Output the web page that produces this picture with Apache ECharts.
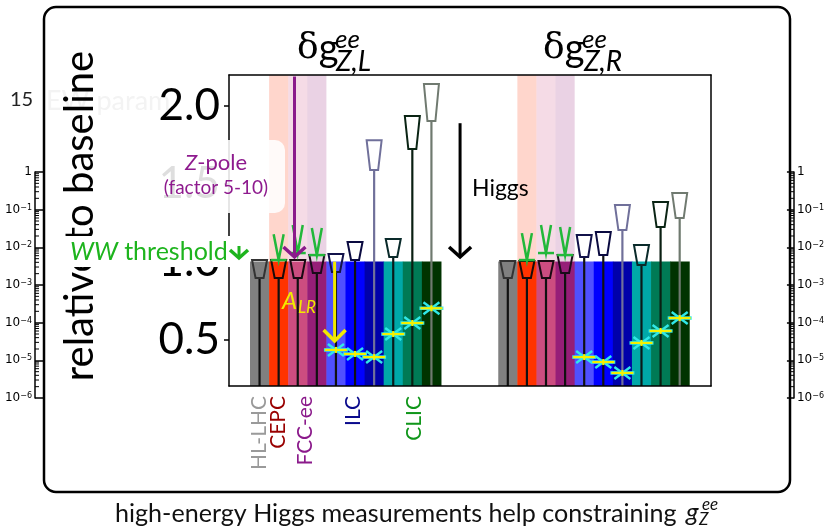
<!DOCTYPE html>
<html><head><meta charset="utf-8">
<script src="https://cdn.jsdelivr.net/npm/echarts@6/dist/echarts.min.js"></script>
<style>html,body{margin:0;padding:0;background:#fff}#c{width:827px;height:527px}</style>
</head><body><div id="c"></div><script>
// ---------------- data ----------------
const barColors = ['#808080','#ff3300','#cc4d80','#961e78','#5050ff','#0000ff','#0000aa','#00a8a8','#007a55','#003300'];
const lineColors = ['#111111','#111111','#111111','#111111','#111111','#111111','#70709a','#0a1a1a','#0a1f12','#6f7a6f'];
const markColors = ['#333333','#1a0a0a','#1a0a12','#1a0a1a','#12124a','#0a0a40','#70709a','#0a2a2a','#0a2414','#707a70'];
const groupLPos = [0,1,2,3,4,5,6,7,8,9];
const groupRPos = [13,14,15,16,17,18,19,20,21,22];
const barTop = 1.0;
const bandIdx = [1,2,3];
// trapezoid markers: top / bottom values
const markTopL = [1.01,1.01,1.01,1.042,1.049,1.126,1.78,1.145,1.936,2.142];
const markBotL = [0.895,0.895,0.895,0.927,0.933,1.01,1.589,1.03,1.724,1.904];
const markTopR = [1.004,1.004,1.004,1.042,1.171,1.19,1.364,1.107,1.383,1.441];
const markBotR = [0.895,0.895,0.895,0.927,1.03,1.042,1.203,0.978,1.222,1.28];
// high-energy (asterisk) values
const starL = [null,null,null,null,0.432,0.406,0.386,0.534,0.605,0.70];
const starR = [null,null,null,null,0.386,0.354,0.284,0.477,0.554,0.637];
// WW threshold markers (top of V, base line)
const wwTopL = [null,1.176,1.235,1.216];
const wwBaseL = [null,1.01,1.055,1.042];
const wwTopR = [null,1.183,1.235,1.222];
const wwBaseR = [null,1.01,1.055,1.042];
// axis ticks / labels
const yTicks = [0.5,1.0,1.5,2.0];
const colliderNames = ['HL-LHC','CEPC','FCC-ee','ILC','CLIC'];
const colliderPos = [0,0.97,2.4,4.9,8.1];
const colliderColors = ['#9a9a9a','#990000','#8b1a8b','#0a0a8c','#10961a'];
const logTicks = [1,0.1,0.01,0.001,0.0001,0.00001,0.000001];
const minorMant = [2,3,4,5,6,7,8,9];
const minorDec = [1e-6,1e-5,1e-4,1e-3,1e-2,1e-1];
// annotation arrows [x, from, to]
const zpoleArrow = [1.83, 2.19, 1.03];
const alrArrow = [3.93, 1.0, 0.49];
const higgsArrow = [10.5, 1.89, 1.03];

const FONT = 'Lato';
const chart = echarts.init(document.getElementById('c'));

const bandData = [], barData = [], lineData = [], markData = [], starData = [], wwData = [];
[[groupLPos, markTopL, markBotL, starL, wwTopL, wwBaseL],[groupRPos, markTopR, markBotR, starR, wwTopR, wwBaseR]].forEach(g => {
  const [pos, mt, mb, st, wt, wb] = g;
  pos.forEach((x, i) => {
    barData.push([x, barTop, i]);
    lineData.push([x, mb[i], i]);
    markData.push([x, mt[i], mb[i], i]);
    if (st[i] != null) starData.push([x, st[i]]);
    if (wt[i] != null) wwData.push([x, wt[i], wb[i]]);
  });
  bandIdx.forEach(i => bandData.push([pos[i], barTop, i]));
});
const yMin = 0.2, yMax = 2.2;

function minorVals(){ const out=[]; minorDec.forEach(d=>minorMant.forEach(m=>out.push([0, m*d]))); return out; }

const logAxisLabel = {
  customValues: logTicks,
  formatter: v => { const e = Math.round(Math.log10(v)); return e === 0 ? '1' : '10{s|−' + (-e) + '}'; },
  fontSize: 12, fontFamily: 'DejaVu Sans', color: '#000', margin: 3,
  rich: { s: { fontSize: 8, fontFamily: 'DejaVu Sans', verticalAlign: 'top', lineHeight: 8, padding: [0,0,7,0] } }
};
const axLine = { show: true, onZero: false, lineStyle: { color: '#000', width: 1.5 } };

// collider labels split over two bottom axes so neighbouring rotated labels are not hidden
const labSetA = [0, 2, 4], labSetB = [1, 3];
function colliderLabel(set) {
  return { customValues: set.map(i => colliderPos[i]), rotate: 90, margin: 10, fontSize: 21, fontFamily: FONT,
    hideOverlap: false,
    formatter: (v) => { const i = colliderPos.indexOf(v); return i < 0 ? '' : '{c' + i + '|' + colliderNames[i] + '}'; },
    rich: Object.fromEntries(colliderColors.map((c, i) => ['c' + i, { color: c, fontSize: 21, fontFamily: FONT }])) };
}

const option = {
  animation: false,
  backgroundColor: '#fff',
  grid: [
    { left: 229, top: 75, width: 482, height: 311 },
    { left: 35, top: 172, width: 8, height: 226 },
    { left: 789, top: 172, width: 8, height: 226 }
  ],
  xAxis: [
    { gridIndex: 0, type: 'value', min: -1.6, max: 23.64, position: 'bottom', z: 10,
      axisLine: axLine, axisTick: { show: false }, splitLine: { show: false }, axisLabel: colliderLabel(labSetA) },
    { gridIndex: 0, type: 'value', min: -1.6, max: 23.64, position: 'top', z: 10,
      axisLine: axLine, axisTick: { show: false }, axisLabel: { show: false }, splitLine: { show: false } },
    { gridIndex: 1, type: 'value', min: 0, max: 1, show: false },
    { gridIndex: 2, type: 'value', min: 0, max: 1, show: false },
    { gridIndex: 0, type: 'value', min: -1.6, max: 23.64, position: 'bottom', offset: 0, z: 10,
      axisLine: { show: false }, axisTick: { show: false }, splitLine: { show: false }, axisLabel: colliderLabel(labSetB) }
  ],
  yAxis: [
    { gridIndex: 0, type: 'value', min: yMin, max: yMax, position: 'left', z: 10,
      axisLine: axLine, splitLine: { show: false },
      axisTick: { show: true, customValues: yTicks, length: 5, lineStyle: { color: '#000', width: 1.5 } },
      axisLabel: { customValues: yTicks, formatter: v => v.toFixed(1), fontSize: 44, fontFamily: FONT, color: '#000', margin: 9 } },
    { gridIndex: 0, type: 'value', min: yMin, max: yMax, position: 'right', z: 10,
      axisLine: axLine, axisTick: { show: false }, axisLabel: { show: false }, splitLine: { show: false } },
    { gridIndex: 1, type: 'log', logBase: 10, min: 1e-6, max: 1, position: 'left',
      axisLine: axLine, splitLine: { show: false },
      axisTick: { inside: true, length: 8, customValues: logTicks, lineStyle: { color: '#000', width: 1.5 } },
      axisLabel: logAxisLabel },
    { gridIndex: 2, type: 'log', logBase: 10, min: 1e-6, max: 1, position: 'right',
      axisLine: axLine, splitLine: { show: false },
      axisTick: { inside: true, length: 7, customValues: logTicks, lineStyle: { color: '#000', width: 1.5 } },
      axisLabel: logAxisLabel }
  ],
  series: [
    { type: 'custom', name: 'bands', z: 1, data: bandData,
      renderItem: (p, api) => { const a = api.coord([api.value(0) - 0.5, yMax]), b = api.coord([api.value(0) + 0.5, api.value(1)]);
        return { type: 'rect', shape: { x: a[0], y: a[1], width: b[0] - a[0], height: b[1] - a[1] }, style: { fill: barColors[api.value(2)], opacity: 0.2 } }; } },
    { type: 'custom', name: 'bars', z: 2, data: barData,
      renderItem: (p, api) => { const a = api.coord([api.value(0) - 0.5, api.value(1)]), b = api.coord([api.value(0) + 0.5, yMin]);
        return { type: 'rect', shape: { x: a[0], y: a[1], width: b[0] - a[0] + 0.5, height: b[1] - a[1] }, style: { fill: barColors[api.value(2)] } }; } },
    { type: 'custom', name: 'lines', z: 3, data: lineData,
      renderItem: (p, api) => { const a = api.coord([api.value(0), api.value(1)]), b = api.coord([api.value(0), yMin]);
        return { type: 'line', shape: { x1: a[0], y1: a[1], x2: b[0], y2: b[1] }, style: { stroke: lineColors[api.value(2)], lineWidth: 2.2 } }; } },
    { type: 'custom', name: 'marks', z: 4, data: markData,
      renderItem: (p, api) => { const t = api.coord([api.value(0), api.value(1)]), b = api.coord([api.value(0), api.value(2)]); const cx = t[0];
        return { type: 'polygon', shape: { points: [[cx - 7.5, t[1]], [cx + 7.5, t[1]], [cx + 4, b[1]], [cx - 4, b[1]]] }, style: { fill: null, stroke: markColors[api.value(3)], lineWidth: 2 } }; } },
    { type: 'custom', name: 'ww', z: 5, data: wwData,
      renderItem: (p, api) => { const t = api.coord([api.value(0), api.value(1)]), b = api.coord([api.value(0), api.value(2)]); const cx = t[0];
        const st = { stroke: '#22b83a', lineWidth: 2.5, fill: null };
        return { type: 'group', children: [
          { type: 'polyline', shape: { points: [[cx - 5, t[1]], [cx, b[1]], [cx + 5, t[1]]] }, style: st },
          { type: 'line', shape: { x1: cx - 8, y1: b[1], x2: cx + 8, y2: b[1] }, style: st } ] }; } },
    { type: 'custom', name: 'high-energy', z: 6, data: starData,
      renderItem: (p, api) => { const c = api.coord([api.value(0), api.value(1)]); const x = c[0], y = c[1];
        const cy = { stroke: '#30e8e8', lineWidth: 2.4 }, ye = { stroke: '#f5f000', lineWidth: 2.2 };
        return { type: 'group', children: [
          { type: 'line', shape: { x1: x - 8, y1: y - 6, x2: x + 8, y2: y + 6 }, style: cy },
          { type: 'line', shape: { x1: x - 8, y1: y + 6, x2: x + 8, y2: y - 6 }, style: cy },
          { type: 'line', shape: { x1: x - 12, y1: y, x2: x + 12, y2: y }, style: { stroke: '#30e8e8', lineWidth: 3.5 } },
          { type: 'line', shape: { x1: x - 11, y1: y, x2: x + 11, y2: y }, style: ye },
          { type: 'line', shape: { x1: x, y1: y - 3, x2: x, y2: y + 3 }, style: ye } ] }; } },
    { type: 'custom', name: 'minorL', xAxisIndex: 2, yAxisIndex: 2, data: minorVals(),
      renderItem: (p, api) => { const c = api.coord([0, api.value(1)]);
        return { type: 'line', shape: { x1: c[0], y1: c[1], x2: c[0] + 4, y2: c[1] }, style: { stroke: '#000', lineWidth: 1 } }; } },
    { type: 'custom', name: 'minorR', xAxisIndex: 3, yAxisIndex: 3, data: minorVals().map(d => [1, d[1]]),
      renderItem: (p, api) => { const c = api.coord([1, api.value(1)]);
        return { type: 'line', shape: { x1: c[0], y1: c[1], x2: c[0] - 4, y2: c[1] }, style: { stroke: '#000', lineWidth: 1 } }; } }
  ]
};
chart.setOption(option);

function arrow(id, a, color, lw, hw, hh) {
  const p0 = chart.convertToPixel({ gridIndex: 0 }, [a[0], a[1]]);
  const p1 = chart.convertToPixel({ gridIndex: 0 }, [a[0], a[2]]);
  return { type: 'group', id: id, z: 60, children: [
    { type: 'line', z: 60, shape: { x1: p0[0], y1: p0[1], x2: p1[0], y2: p1[1] }, style: { stroke: color, lineWidth: lw } },
    { type: 'polyline', z: 60, shape: { points: [[p1[0] - hw, p1[1] - hh], [p1[0], p1[1]], [p1[0] + hw, p1[1] - hh]] }, style: { stroke: color, lineWidth: lw + 0.5, fill: null } } ] };
}

const titleRich = { d: { fontSize: 36, fontFamily: 'DejaVu Serif', fill: '#000' }, g: { fontSize: 38, fontFamily: FONT, fill: '#000' } };
const graphics = [
  // slide frame
  { type: 'rect', z: 70, shape: { x: 44, y: 7, width: 746, height: 485, r: 12 }, style: { fill: null, stroke: '#000', lineWidth: 2.5 } },
  { type: 'text', z: 5, left: 10, top: 90, style: { text: '15', fontSize: 20, fontFamily: FONT, fill: '#222' } },
  { type: 'text', z: 5, left: 46, top: 88, style: { text: 'EW param', fontSize: 27, fontFamily: FONT, fill: '#f3f3f3' } },
  // titles
  { type: 'text', z: 50, x: 297, y: 68, style: { text: '{d|δ}{g|g}', verticalAlign: 'bottom', rich: titleRich } },
  { type: 'text', z: 50, x: 335, y: 40, style: { text: 'ee', fontSize: 26, fontStyle: 'italic', fontFamily: FONT, fill: '#000', verticalAlign: 'middle' } },
  { type: 'text', z: 50, x: 336, y: 62, style: { text: 'Z,L', fontSize: 28, fontStyle: 'italic', fontFamily: FONT, fill: '#000', verticalAlign: 'middle' } },
  { type: 'text', z: 50, x: 543, y: 68, style: { text: '{d|δ}{g|g}', verticalAlign: 'bottom', rich: titleRich } },
  { type: 'text', z: 50, x: 582, y: 40, style: { text: 'ee', fontSize: 26, fontStyle: 'italic', fontFamily: FONT, fill: '#000', verticalAlign: 'middle' } },
  { type: 'text', z: 50, x: 584, y: 62, style: { text: 'Z,R', fontSize: 28, fontStyle: 'italic', fontFamily: FONT, fill: '#000', verticalAlign: 'middle' } },
  // y axis name
  { type: 'text', z: 40, x: 80, y: 216, rotation: Math.PI / 2, style: { text: 'relative to baseline', fontSize: 40, fontFamily: FONT, fill: '#000', align: 'center', verticalAlign: 'middle' } },
  // Z-pole box + text
  { type: 'rect', z: 50, shape: { x: 148, y: 140, width: 137, height: 73, r: 10 }, style: { fill: 'rgba(255,255,255,0.87)' } },
  { type: 'text', z: 55, x: 216, y: 163, style: { text: '{i|Z}-pole', align: 'center', verticalAlign: 'middle', fontSize: 22, fontFamily: FONT, fill: '#8e1a8e', rich: { i: { fontStyle: 'italic', fontSize: 22, fontFamily: FONT, fill: '#8e1a8e' } } } },
  { type: 'text', z: 55, x: 216, y: 188, style: { text: '(factor 5-10)', align: 'center', verticalAlign: 'middle', fontSize: 19, fontFamily: FONT, fill: '#8e1a8e' } },
  // WW threshold label
  { type: 'rect', z: 50, shape: { x: 60, y: 236, width: 188, height: 31 }, style: { fill: '#fff' } },
  { type: 'text', z: 55, x: 70, y: 252, style: { text: '{i|WW} threshold', verticalAlign: 'middle', fontSize: 25, fontFamily: FONT, fill: '#1db41d', rich: { i: { fontStyle: 'italic', fontSize: 25, fontFamily: FONT, fill: '#1db41d' } } } },
  { type: 'line', z: 55, shape: { x1: 239, y1: 246, x2: 239, y2: 258 }, style: { stroke: '#1db41d', lineWidth: 3 } },
  { type: 'polyline', z: 55, shape: { points: [[230, 250], [239, 258], [248, 250]] }, style: { stroke: '#1db41d', lineWidth: 3.5, fill: null } },
  // Higgs text
  { type: 'text', z: 55, x: 472, y: 189, style: { text: 'Higgs', verticalAlign: 'middle', fontSize: 23, fontFamily: FONT, fill: '#000' } },
  // A_LR text
  { type: 'text', z: 55, x: 282, y: 301, style: { text: 'A', verticalAlign: 'middle', fontSize: 24, fontStyle: 'italic', fontFamily: FONT, fill: '#f2ea00' } },
  { type: 'text', z: 55, x: 298, y: 308, style: { text: 'LR', verticalAlign: 'middle', fontSize: 17, fontStyle: 'italic', fontFamily: FONT, fill: '#f2ea00' } },
  // caption
  { type: 'text', z: 55, x: 115, y: 514, style: { text: 'high-energy Higgs measurements help constraining', verticalAlign: 'middle', fontSize: 25.1, fontFamily: FONT, fill: '#111' } },
  { type: 'text', z: 55, x: 686, y: 513, style: { text: 'g', verticalAlign: 'middle', fontSize: 26, fontStyle: 'italic', fontFamily: FONT, fill: '#111' } },
  { type: 'text', z: 55, x: 702, y: 505, style: { text: 'ee', verticalAlign: 'middle', fontSize: 17, fontStyle: 'italic', fontFamily: FONT, fill: '#111' } },
  { type: 'text', z: 55, x: 699, y: 520, style: { text: 'Z', verticalAlign: 'middle', fontSize: 17, fontStyle: 'italic', fontFamily: FONT, fill: '#111' } },
  arrow('zpole', zpoleArrow, '#8b1a8b', 3, 11, 10),
  arrow('alr', alrArrow, '#f2ea00', 3, 11, 11),
  arrow('higgs', higgsArrow, '#000', 3, 11, 10)
];
chart.setOption({ graphic: graphics });
</script></body></html>
